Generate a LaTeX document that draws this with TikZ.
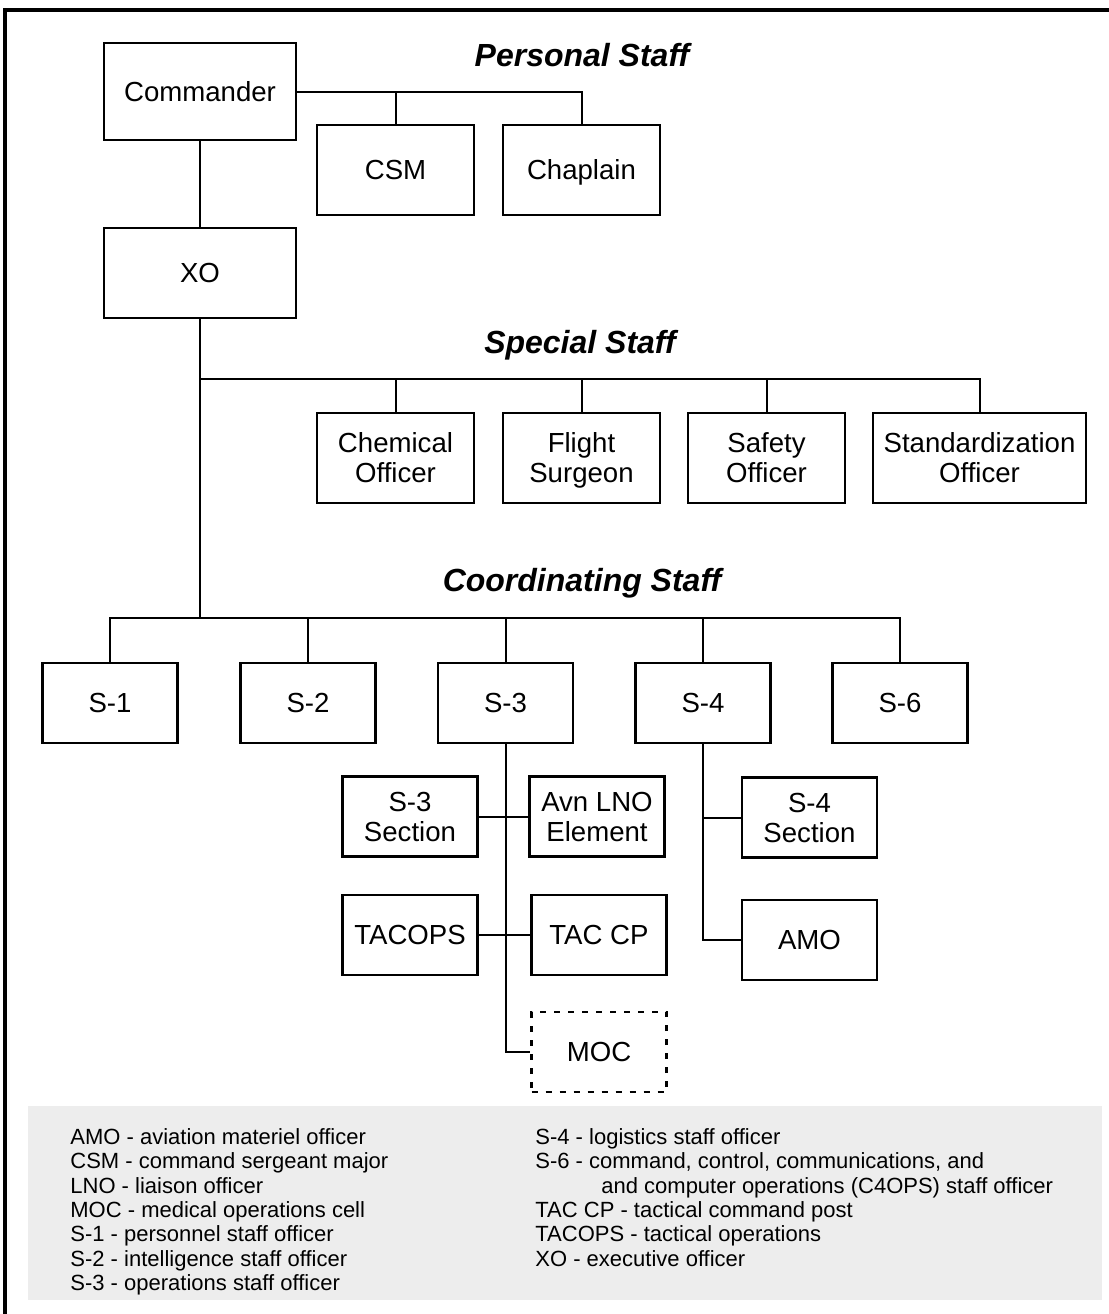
\documentclass[tikz,border=0pt]{standalone}
\usepackage{fontspec}
\setmainfont{Liberation Sans}
\begin{document}
\begin{tikzpicture}[x=0.5pt,y=-0.5pt,
 box/.style={draw,line width=1.3pt,inner sep=0pt,align=center,text height=9.9pt,text depth=0pt,font=\fontsize{13.8}{15}\selectfont},
 dbl/.style={text height=24.9pt},
 pbox/.style={box,minimum width=78.5pt,minimum height=45pt},
 sbox/.style={box,minimum width=67.5pt,minimum height=40pt},
 ln/.style={line width=1pt},
 ttl/.style={font=\fontsize{16}{18}\selectfont\bfseries\itshape},
 leg/.style={inner sep=0pt,anchor=north west,align=left,font=\fontsize{11}{12.2}\selectfont}]
\useasboundingbox (0,0) rectangle (1109,1314);
\draw[line width=2pt] (5,1314)--(5,10)--(1109,10);
\fill[black!7] (28,1106) rectangle (1102,1300);
\node[ttl] (ps) at (582,55) {Personal Staff};
\node[ttl] (ss) at (580,345) {Special Staff};
\node[ttl] (cs) at (582,583) {Coordinating Staff};
\node[box,minimum width=96pt,minimum height=48.5pt] (cdr) at (200,91.5) {Commander};
\node[box,minimum width=96pt,minimum height=45pt] (xo) at (200,273) {XO};
\node[pbox] (csm) at (395.5,170) {CSM};
\node[pbox] (chap) at (581.5,170) {Chaplain};
\node[pbox,dbl] (chem) at (395.5,458) {Chemical\\Officer};
\node[pbox,dbl] (flt) at (581.5,458) {Flight\\Surgeon};
\node[pbox,dbl] (saf) at (766.5,458) {Safety\\Officer};
\node[pbox,dbl,minimum width=106.5pt] (std) at (979.5,458) {Standardization\\Officer};
\node[sbox] (s1) at (110,703) {S-1};
\node[sbox] (s2) at (308,703) {S-2};
\node[sbox] (s3) at (505.5,703) {S-3};
\node[sbox] (s4) at (703,703) {S-4};
\node[sbox] (s6) at (900,703) {S-6};
\node[sbox,dbl] (s3sec) at (410,816.5) {S-3\\Section};
\node[sbox,dbl] (avn) at (597,816.5) {Avn LNO\\Element};
\node[sbox] (tacops) at (410,935) {TACOPS};
\node[sbox] (taccp) at (599,935) {TAC CP};
\node[sbox,dash pattern=on 3pt off 4pt] (moc) at (599,1052) {MOC};
\node[sbox,dbl] (s4sec) at (809.5,817.5) {S-4\\Section};
\node[sbox] (amo) at (809.5,940) {AMO};
\coordinate (sp) at (200,379);
\coordinate (co) at (200,618);
\draw[ln] (cdr.east)--(chap.north |- cdr.east)--(chap.north);
\draw[ln] (csm.north |- cdr.east)--(csm.north);
\draw[ln] (cdr)--(xo);
\draw[ln] (xo.south)--(co);
\draw[ln] (sp)--(std.north |- sp)--(std.north);
\foreach \n in {chem,flt,saf} \draw[ln] (\n.north |- sp)--(\n.north);
\draw[ln] (s1.north)--(s1.north |- co)--(s6.north |- co)--(s6.north);
\foreach \n in {s2,s3,s4} \draw[ln] (\n.north |- co)--(\n.north);
\draw[ln] (s3.south)--(s3.south |- moc.west)--(moc.west);
\draw[ln] (s3sec)--(avn);
\draw[ln] (tacops)--(taccp);
\draw[ln] (s4.south)--(s4.south |- amo.west)--(amo.west);
\draw[ln] (s4.south |- s4sec.west)--(s4sec.west);
\node[leg] (lgl) at (70,1128) {AMO - aviation materiel officer\\CSM - command sergeant major\\LNO - liaison officer\\MOC - medical operations cell\\S-1 - personnel staff officer\\S-2 - intelligence staff officer\\S-3 - operations staff officer};
\node[leg] (lgr) at (535,1128) {S-4 - logistics staff officer\\S-6 - command, control, communications, and\\\hspace*{33pt}and computer operations (C4OPS) staff officer\\TAC CP - tactical command post\\TACOPS - tactical operations\\XO - executive officer};
\end{tikzpicture}
\end{document}
